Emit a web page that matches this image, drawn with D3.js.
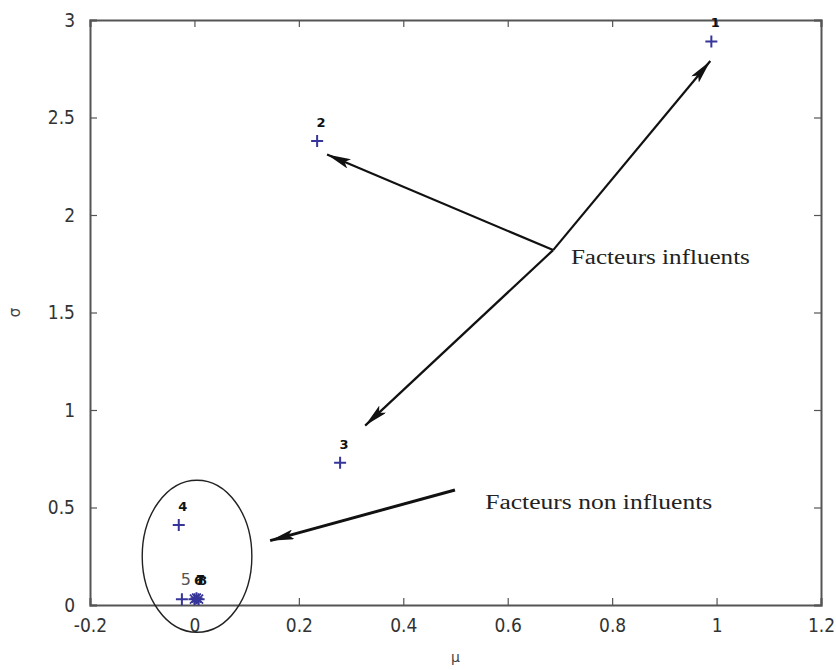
<!DOCTYPE html>
<html>
<head>
<meta charset="utf-8">
<script src="https://cdn.jsdelivr.net/npm/d3@7"></script>
<style>
  body { margin: 0; background: #fff; }
  svg { display: block; }
</style>
</head>
<body>
<div id="chart"></div>
<script>
// data (mu = x, sigma = y)
const ids = ["1", "2", "3", "4", "5", "6", "7", "8"];
const mu = [0.99, 0.235, 0.279, -0.03, -0.024, 0.0, 0.004, 0.008];
const sigma = [2.89, 2.38, 0.73, 0.41, 0.03, 0.03, 0.035, 0.03];

const xTicks = [-0.2, 0, 0.2, 0.4, 0.6, 0.8, 1, 1.2];
const yTicks = [0, 0.5, 1, 1.5, 2, 2.5, 3];

// annotation arrows: [fromX, fromY, toX, toY] in data units
const arrowsInfluent = [
  [0.687, 1.82, 0.254, 2.31],
  [0.687, 1.82, 0.988, 2.79],
  [0.687, 1.82, 0.327, 0.92]
];
const arrowNonInfluent = [0.499, 0.59, 0.145, 0.33];
const ellipse = { cx: 0.005, cy: 0.25, rx: 0.105, ry: 0.39 };

const width = 836, height = 670,
  margin = { top: 20, right: 15, bottom: 65, left: 90 };

const svg = d3.select("#chart").append("svg")
  .attr("width", width)
  .attr("height", height);

const x = d3.scaleLinear().domain([-0.2, 1.2]).range([margin.left, width - margin.right]);
const y = d3.scaleLinear().domain([0, 3]).range([height - margin.bottom, margin.top]);

const frame = "#555";
const tickFont = "'Liberation Sans Narrow', 'DejaVu Sans Condensed', Arial, sans-serif";

// axes (matlab style: inward ticks on all sides, box)
const gBottom = svg.append("g")
  .attr("transform", `translate(0,${y(0)})`)
  .call(d3.axisBottom(x).tickValues(xTicks).tickSize(-7).tickPadding(14).tickFormat(d => String(d)));
const gTop = svg.append("g")
  .attr("transform", `translate(0,${y(3)})`)
  .call(d3.axisTop(x).tickValues(xTicks).tickSize(-7).tickFormat(""));
const gLeft = svg.append("g")
  .attr("transform", `translate(${x(-0.2)},0)`)
  .call(d3.axisLeft(y).tickValues(yTicks).tickSize(-7).tickPadding(15).tickFormat(d => String(d)));
const gRight = svg.append("g")
  .attr("transform", `translate(${x(1.2)},0)`)
  .call(d3.axisRight(y).tickValues(yTicks).tickSize(-7).tickFormat(""));

[gBottom, gTop, gLeft, gRight].forEach(g => {
  g.select(".domain").attr("stroke", frame).attr("stroke-width", 2);
  g.selectAll(".tick line").attr("stroke", frame).attr("stroke-width", 1.2);
  g.selectAll(".tick text")
    .attr("font-family", tickFont)
    .attr("font-size", 19)
    .attr("fill", "#333");
});

// axis labels
svg.append("text")
  .attr("x", x(0.5)).attr("y", 662)
  .attr("text-anchor", "middle")
  .attr("font-family", "'DejaVu Sans', sans-serif")
  .attr("font-size", 14)
  .attr("fill", "#444")
  .text("μ");
svg.append("text")
  .attr("transform", `translate(20,${y(1.5)}) rotate(-90)`)
  .attr("text-anchor", "middle")
  .attr("font-family", "'DejaVu Sans', sans-serif")
  .attr("font-size", 15)
  .attr("fill", "#444")
  .text("σ");

// markers
const blue = "#35359a";
const points = ids.map((id, i) => ({ id, mu: mu[i], sigma: sigma[i] }));
const pts = svg.append("g");
pts.selectAll("path.pt")
  .data(points)
  .join("path")
  .attr("class", "pt")
  .attr("d", d => {
    const cx = x(d.mu), cy = y(d.sigma), s = 6;
    return `M${cx - s},${cy}H${cx + s}M${cx},${cy - s}V${cy + s}`;
  })
  .attr("stroke", blue)
  .attr("stroke-width", 2);
// the stacked points 6-8 look like a star
pts.selectAll("path.star")
  .data(points.filter(d => +d.id >= 6))
  .join("path")
  .attr("class", "star")
  .attr("d", d => {
    const cx = x(d.mu), cy = y(d.sigma), s = 4.5;
    return `M${cx - s},${cy - s}L${cx + s},${cy + s}M${cx - s},${cy + s}L${cx + s},${cy - s}`;
  })
  .attr("stroke", blue)
  .attr("stroke-width", 1.6);

// labels 6, 7, 8 sit on top of each other, as in the source figure
pts.selectAll("text")
  .data(points)
  .join("text")
  .attr("x", d => x(d.mu) + 4)
  .attr("y", d => y(d.sigma) - 14)
  .attr("text-anchor", "middle")
  .attr("font-family", "'DejaVu Sans', sans-serif")
  .attr("font-weight", d => d.id === "5" ? "normal" : "bold")
  .attr("font-size", d => d.id === "5" ? 16 : 13)
  .attr("fill", d => d.id === "5" ? "#555" : "#111")
  .text(d => d.id);

// annotations
svg.append("defs").append("marker")
  .attr("id", "head")
  .attr("viewBox", "0 0 24 10")
  .attr("refX", 24).attr("refY", 5)
  .attr("markerWidth", 24).attr("markerHeight", 10)
  .attr("markerUnits", "userSpaceOnUse")
  .attr("orient", "auto")
  .append("path")
  .attr("d", "M0,0L24,5L0,10L5,5Z")
  .attr("fill", "#111");

svg.append("g")
  .selectAll("line")
  .data(arrowsInfluent)
  .join("line")
  .attr("x1", d => x(d[0])).attr("y1", d => y(d[1]))
  .attr("x2", d => x(d[2])).attr("y2", d => y(d[3]))
  .attr("stroke", "#111")
  .attr("stroke-width", 2.2)
  .attr("marker-end", "url(#head)");

svg.append("line")
  .attr("x1", x(arrowNonInfluent[0])).attr("y1", y(arrowNonInfluent[1]))
  .attr("x2", x(arrowNonInfluent[2])).attr("y2", y(arrowNonInfluent[3]))
  .attr("stroke", "#111")
  .attr("stroke-width", 3)
  .attr("marker-end", "url(#head)");

svg.append("ellipse")
  .attr("cx", x(ellipse.cx)).attr("cy", y(ellipse.cy))
  .attr("rx", x(ellipse.rx) - x(0)).attr("ry", y(0) - y(ellipse.ry))
  .attr("fill", "none")
  .attr("stroke", "#222")
  .attr("stroke-width", 1.4);

const serif = "'Liberation Serif', 'DejaVu Serif', serif";
svg.append("text")
  .attr("x", x(0.721)).attr("y", y(1.75))
  .attr("font-family", serif)
  .attr("font-size", 20)
  .attr("textLength", 179)
  .attr("lengthAdjust", "spacingAndGlyphs")
  .attr("fill", "#222")
  .text("Facteurs influents");
svg.append("text")
  .attr("x", x(0.557)).attr("y", y(0.49))
  .attr("font-family", serif)
  .attr("font-size", 20)
  .attr("textLength", 227)
  .attr("lengthAdjust", "spacingAndGlyphs")
  .attr("fill", "#222")
  .text("Facteurs non influents");
</script>
</body>
</html>
